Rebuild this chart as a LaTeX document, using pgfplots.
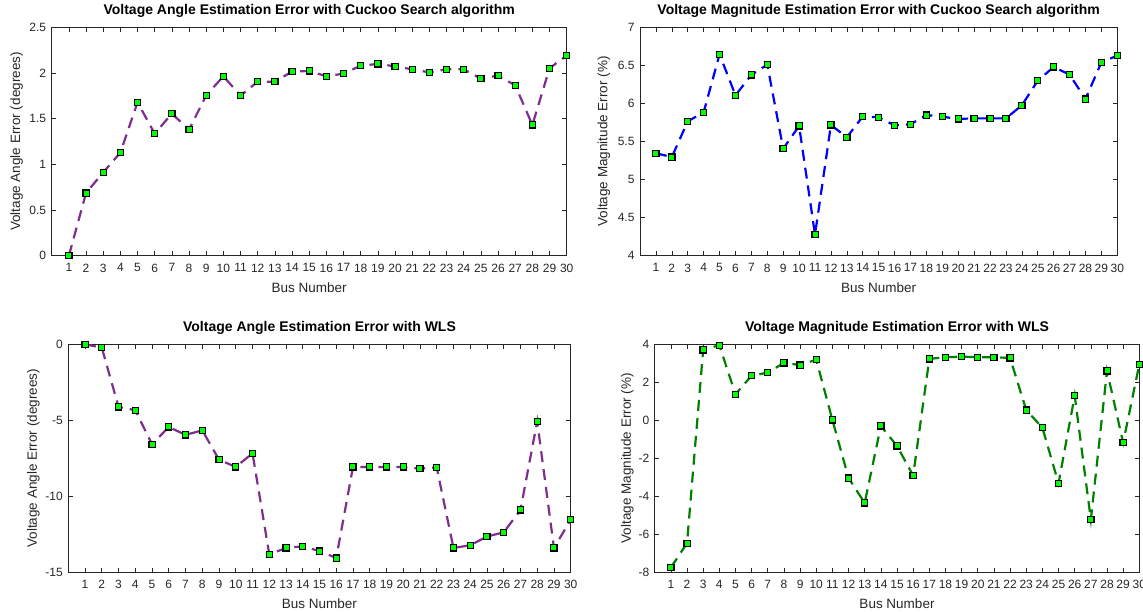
\documentclass[border=0pt]{standalone}
\usepackage{fontspec}
\setmainfont{Liberation Sans}
\usepackage{pgfplots}
\pgfplotsset{compat=1.18}
\definecolor{mpurple}{rgb}{0.494,0.184,0.556}
\definecolor{axgray}{rgb}{0.15,0.15,0.15}
\definecolor{mgreen}{rgb}{0,0.5,0}
\definecolor{mlime}{rgb}{0,1,0}
\pgfplotsset{
  panel/.style={
    scale only axis, anchor=south west, clip=false,
    xmin=0, xmax=30, xtick={1,...,30},
    major tick length=4.5pt,
    axis line style={axgray, line width=0.6pt},
    tick style={axgray, line width=0.6pt},
    /pgf/number format/assume math mode=true,
    tick label style={font=\fontsize{12}{14}\selectfont, text=axgray},
    xticklabel style={yshift=-4.5pt},
    yticklabel style={xshift=-2pt},
    label style={font=\fontsize{13.5}{15}\selectfont, text=axgray},
    title style={font=\fontsize{14}{16}\selectfont\bfseries, at={(axis description cs:0.5,1)}, anchor=base, yshift=7pt},
    xlabel style={at={(axis description cs:0.5,0)}, anchor=base, yshift=-36.5pt},
    xlabel={Bus Number},
  },
  ser/.style={line width=2.2pt, dash pattern=on 11pt off 7pt, #1,
    mark=square*, mark size=3.1pt,
    mark options={solid, draw=black, fill=mlime, line width=1.2pt}},
}
\begin{document}
\begin{tikzpicture}
\useasboundingbox (0,0) rectangle (1143pt,611pt);
% Top-left
\begin{axis}[panel, at={(51.7pt,355.3pt)}, width=515pt, height=228.4pt,
  ymin=0, ymax=2.5, ytick={0,0.5,1,1.5,2,2.5},
  title={Voltage Angle Estimation Error with Cuckoo Search algorithm},
  ylabel={Voltage Angle Error (degrees)},
  ylabel style={at={(axis description cs:-0.068,0.5)}, anchor=center}]
\addplot[ser=mpurple] coordinates {
(1,0) (2,0.686) (3,0.912) (4,1.128) (5,1.679) (6,1.336) (7,1.555) (8,1.380)
(9,1.755) (10,1.964) (11,1.752) (12,1.905) (13,1.905) (14,2.015) (15,2.022)
(16,1.964) (17,1.993) (18,2.080) (19,2.099) (20,2.073) (21,2.040) (22,2.007)
(23,2.040) (24,2.040) (25,1.938) (26,1.971) (27,1.865) (28,1.431) (29,2.051) (30,2.193)};
\end{axis}
% Top-right
\begin{axis}[panel, at={(640pt,355.3pt)}, width=477.3pt, height=228.4pt,
  ymin=4, ymax=7, ytick={4,4.5,5,5.5,6,6.5,7},
  title={Voltage Magnitude Estimation Error with Cuckoo Search algorithm},
  ylabel={Voltage Magnitude Error (\%)},
  ylabel style={at={(axis description cs:-0.0755,0.5)}, anchor=center}]
\addplot[ser=blue] coordinates {
(1,5.345) (2,5.296) (3,5.765) (4,5.883) (5,6.645) (6,6.107) (7,6.374) (8,6.510)
(9,5.406) (10,5.704) (11,4.276) (12,5.717) (13,5.555) (14,5.828) (15,5.818)
(16,5.712) (17,5.726) (18,5.848) (19,5.826) (20,5.796) (21,5.804) (22,5.804)
(23,5.804) (24,5.975) (25,6.299) (26,6.479) (27,6.378) (28,6.058) (29,6.540) (30,6.628)};
\end{axis}
% Bottom-left
\begin{axis}[panel, at={(68.3pt,38.7pt)}, width=502.4pt, height=228pt,
  ymin=-15, ymax=0, ytick={-15,-10,-5,0},
  title={Voltage Angle Estimation Error with WLS},
  ylabel={Voltage Angle Error (degrees)},
  ylabel style={at={(axis description cs:-0.0697,0.5)}, anchor=center}]
\addplot[ser=mpurple] coordinates {
(1,0) (2,-0.22) (3,-4.12) (4,-4.34) (5,-6.58) (6,-5.44) (7,-5.96) (8,-5.66)
(9,-7.59) (10,-8.07) (11,-7.17) (12,-13.82) (13,-13.40) (14,-13.29) (15,-13.60)
(16,-14.06) (17,-8.07) (18,-8.07) (19,-8.07) (20,-8.07) (21,-8.18) (22,-8.11)
(23,-13.40) (24,-13.22) (25,-12.65) (26,-12.37) (27,-10.90) (28,-5.07) (29,-13.40) (30,-11.54)};
\end{axis}
% Bottom-right
\begin{axis}[panel, at={(654.7pt,38.7pt)}, width=484.6pt, height=228pt,
  ymin=-8, ymax=4, ytick={-8,-6,-4,-2,0,2,4},
  title={Voltage Magnitude Estimation Error with WLS},
  ylabel={Voltage Magnitude Error (\%)},
  ylabel style={at={(axis description cs:-0.0566,0.5)}, anchor=center}]
\addplot[ser=mgreen] coordinates {
(1,-7.75) (2,-6.47) (3,3.70) (4,3.95) (5,1.37) (6,2.35) (7,2.51) (8,3.02)
(9,2.91) (10,3.19) (11,0.02) (12,-3.04) (13,-4.35) (14,-0.30) (15,-1.35)
(16,-2.91) (17,3.23) (18,3.32) (19,3.35) (20,3.32) (21,3.32) (22,3.28)
(23,0.54) (24,-0.39) (25,-3.32) (26,1.30) (27,-5.23) (28,2.60) (29,-1.18) (30,2.95)};
\end{axis}
\end{tikzpicture}
\end{document}
